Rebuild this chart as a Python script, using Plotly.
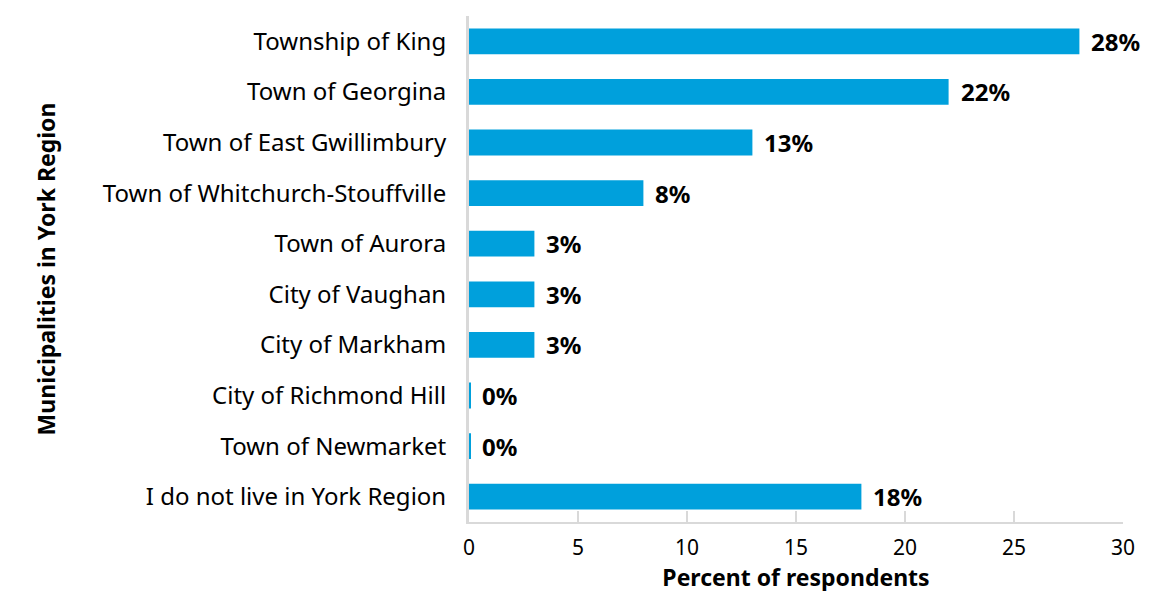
import plotly.graph_objects as go

municipalities = [
    "Township of King",
    "Town of Georgina",
    "Town of East Gwillimbury",
    "Town of Whitchurch-Stouffville",
    "Town of Aurora",
    "City of Vaughan",
    "City of Markham",
    "City of Richmond Hill",
    "Town of Newmarket",
    "I do not live in York Region",
]
percent = [28, 22, 13, 8, 3, 3, 3, 0.05, 0.05, 18]
labels = [f"{round(v)}%" for v in percent]

x_ticks = [0, 5, 10, 15, 20, 25, 30]

BAR = "#00A0DC"
GRID = "#D9D9D9"
FONT = "Noto Sans"

fig = go.Figure()

fig.add_trace(go.Bar(
    x=percent,
    y=municipalities,
    orientation="h",
    marker=dict(color=BAR, line=dict(width=0)),
    width=0.51,
    showlegend=False,
))

# value labels to the right of each bar
for v, m, lab in zip(percent, municipalities, labels):
    fig.add_annotation(
        x=v, y=m, text=f"<b>{lab}</b>",
        showarrow=False, xanchor="left", yanchor="middle", xshift=10,
        font=dict(family=FONT, size=24, color="black"),
    )

fig.update_layout(
    width=1168,
    height=591,
    margin=dict(l=461, r=53, t=8, b=77, autoexpand=False),
    plot_bgcolor="white",
    paper_bgcolor="white",
    font=dict(family=FONT, color="black"),
    xaxis=dict(
        range=[0, 30],
        tickvals=x_ticks,
        showgrid=False,
        zeroline=False,
        showline=True,
        linecolor=GRID,
        linewidth=2,
        ticks="inside",
        ticklen=11,
        tickwidth=2,
        tickcolor=GRID,
        ticklabelstandoff=6,
        tickfont=dict(size=21, color="black"),
        automargin=False,
        title=dict(text="<b>Percent of respondents</b>", font=dict(size=23), standoff=6),
    ),
    yaxis=dict(
        autorange=False,
        range=[9.5, -0.5],
        showgrid=False,
        zeroline=False,
        showline=True,
        linecolor=GRID,
        linewidth=3,
        ticks="",
        ticklabelstandoff=15,
        tickfont=dict(size=24, color="black"),
        automargin=False,
        title=dict(text="<b>Municipalities in York Region</b>", font=dict(size=23), standoff=41),
    ),
)

fig.write_html("out.html")
